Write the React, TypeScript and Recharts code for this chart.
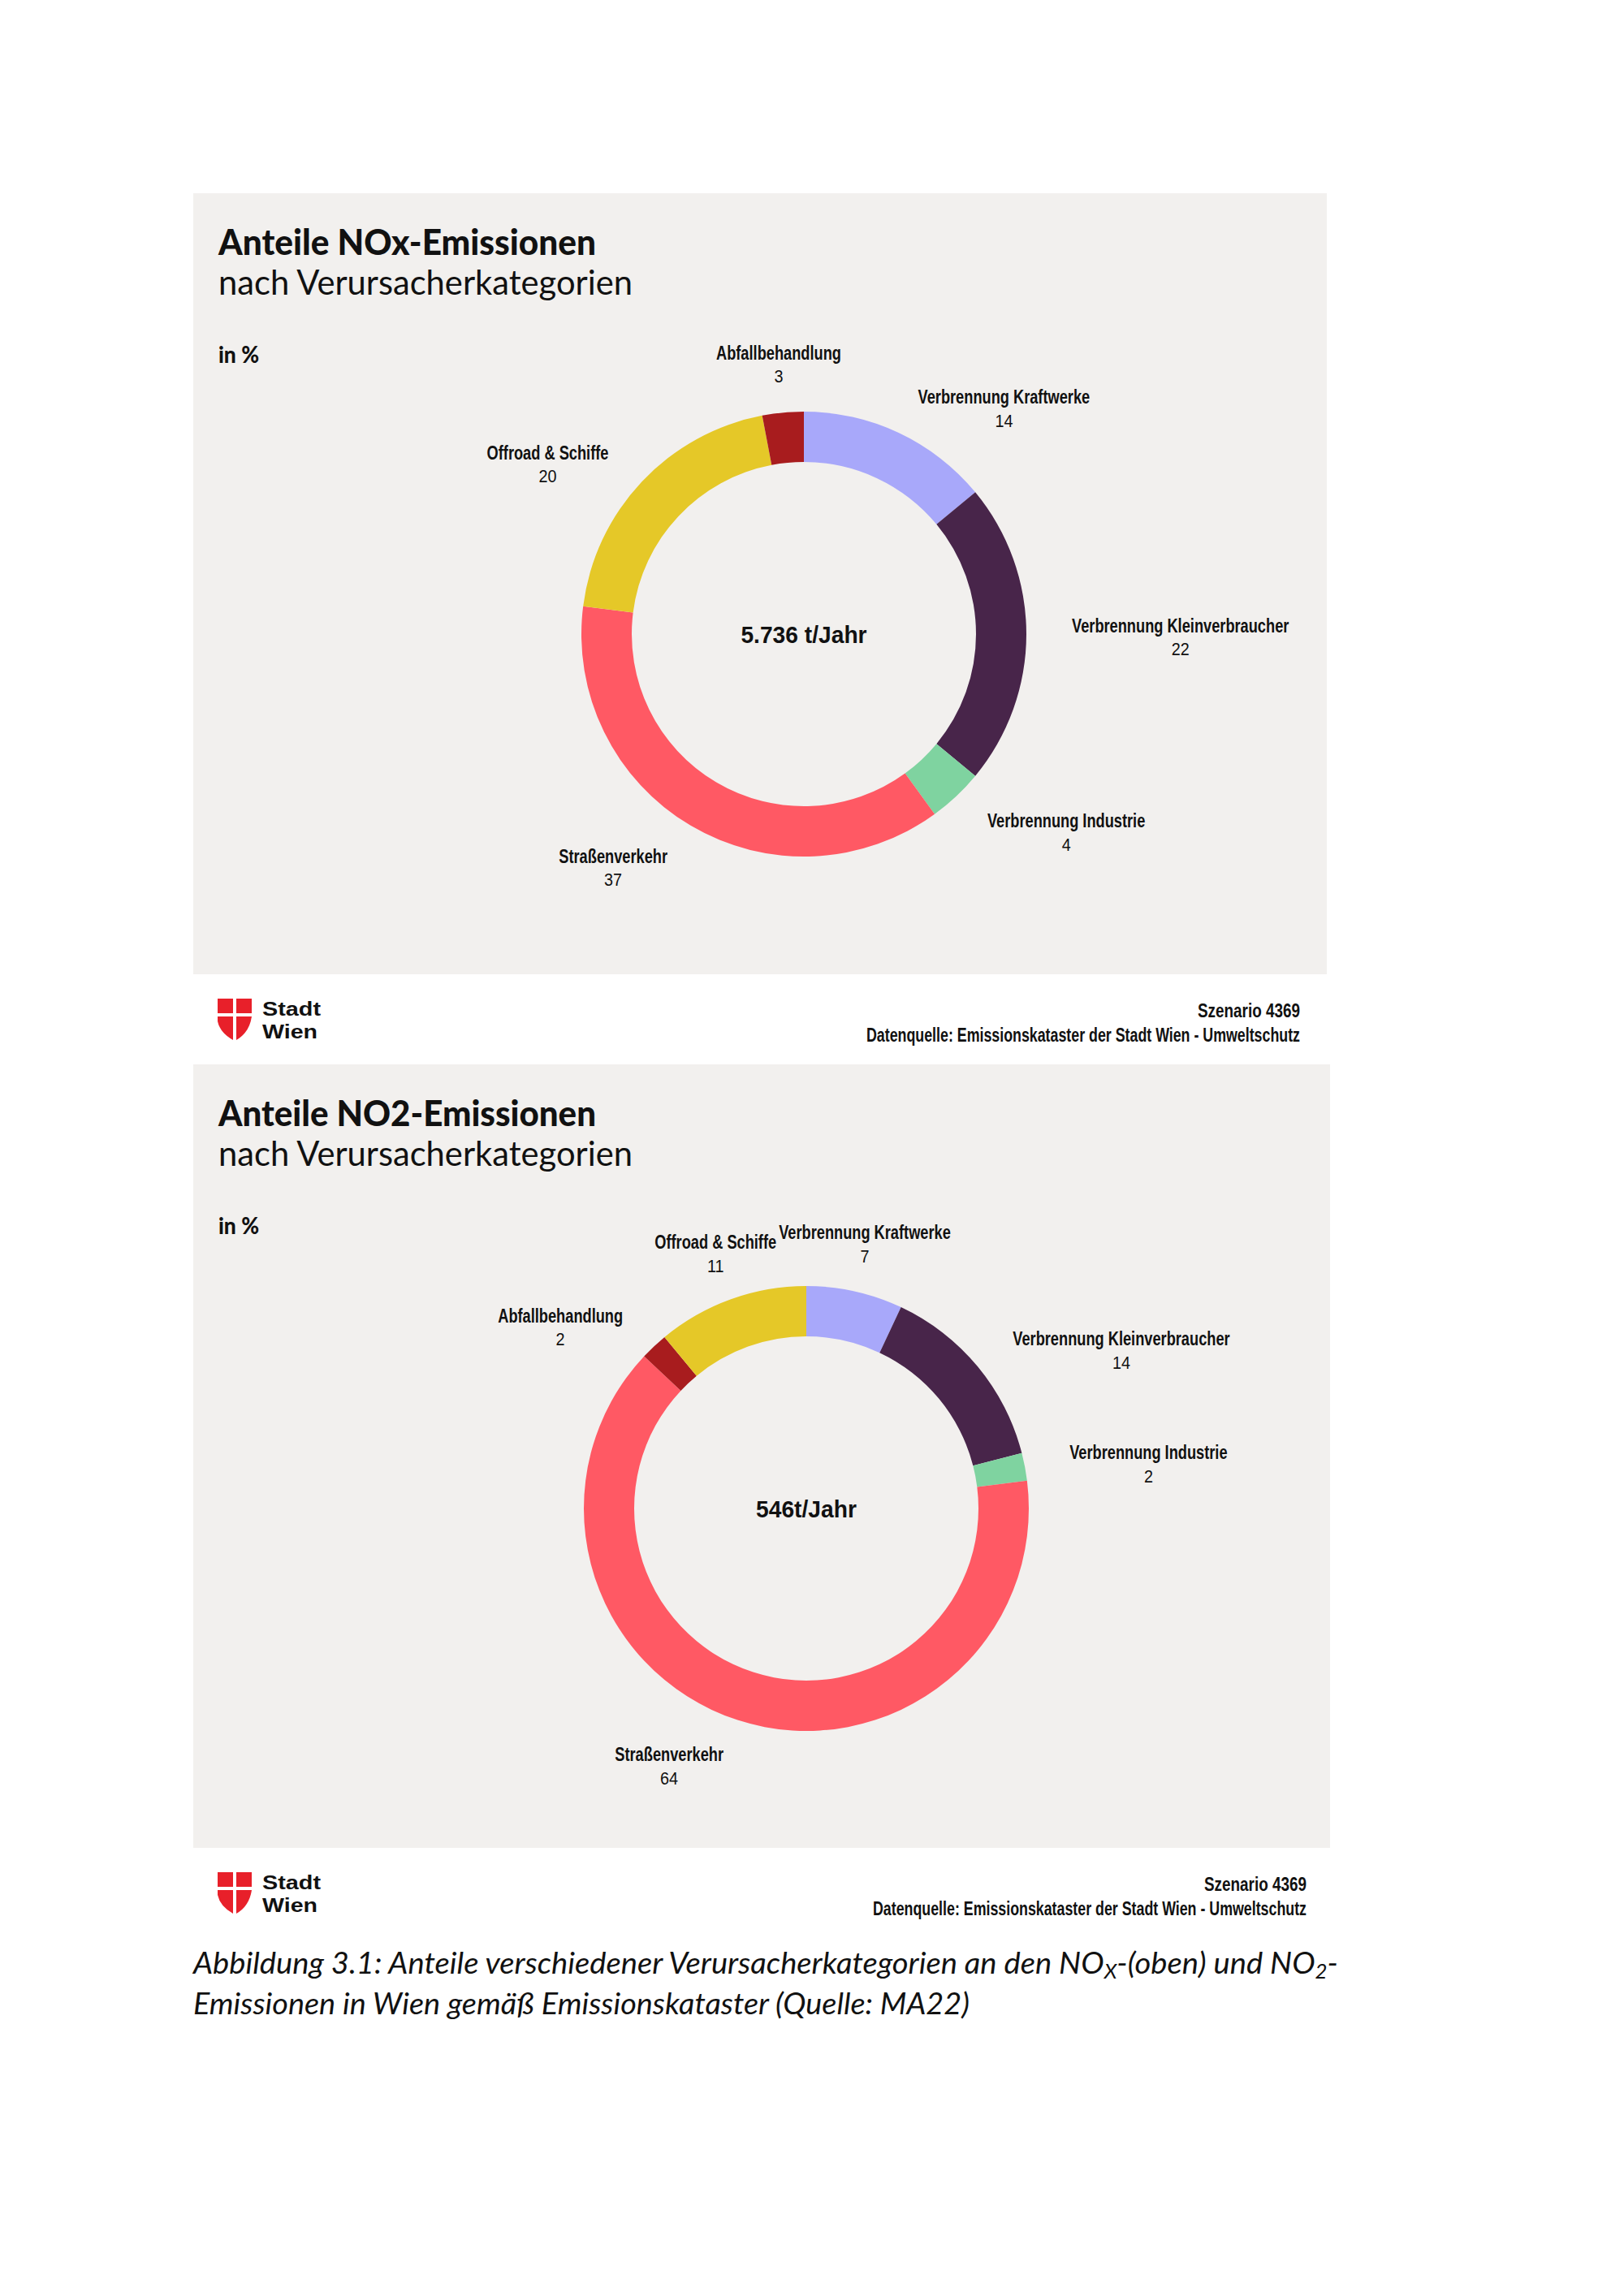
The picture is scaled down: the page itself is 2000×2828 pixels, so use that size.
import React from 'react';
import { PieChart, Pie, Cell } from 'recharts';

// ---------- DATA ----------
const noxCategories = [
  'Verbrennung Kraftwerke',
  'Verbrennung Kleinverbraucher',
  'Verbrennung Industrie',
  'Straßenverkehr',
  'Offroad & Schiffe',
  'Abfallbehandlung',
];
const noxShares = [14, 22, 4, 37, 20, 3];
const noxTotal = '5.736 t/Jahr';

const no2Categories = [
  'Verbrennung Kraftwerke',
  'Verbrennung Kleinverbraucher',
  'Verbrennung Industrie',
  'Straßenverkehr',
  'Abfallbehandlung',
  'Offroad & Schiffe',
];
const no2Shares = [7, 14, 2, 64, 2, 11];
const no2Total = '546t/Jahr';

// ---------- STYLE ----------
const categoryColors: Record<string, string> = {
  'Verbrennung Kraftwerke': '#A8A8FA',
  'Verbrennung Kleinverbraucher': '#48254A',
  'Verbrennung Industrie': '#7FD3A0',
  'Straßenverkehr': '#FF5964',
  'Offroad & Schiffe': '#E5C828',
  'Abfallbehandlung': '#A81C1E',
};
const GRAY = '#F2F0EE';
const INK = '#111111';
const NAME_FONT_FAMILY = '"Liberation Sans", Arial, sans-serif';
const NAME_SIZE = 24;
const NAME_SX = 0.76;
const NUM_SIZE = 22;
const NUM_SX = 0.9;
const TITLE_FAMILY = 'Lato, "Noto Sans", sans-serif';

const RAD = Math.PI / 180;

let canvasCtx: CanvasRenderingContext2D | null = null;
function measure(text: string, font: string): number {
  if (typeof document === 'undefined') return text.length * 12;
  if (!canvasCtx) canvasCtx = document.createElement('canvas').getContext('2d');
  if (!canvasCtx) return text.length * 12;
  canvasCtx.font = font;
  return canvasCtx.measureText(text).width;
}

const renderLabel = (props: any) => {
  const cx = Number(props.cx);
  const cy = Number(props.cy);
  const mid =
    props.midAngle !== undefined ? props.midAngle : (props.startAngle + props.endAngle) / 2;
  const r = Number(props.outerRadius) + 56;
  const px = cx + r * Math.cos(-mid * RAD);
  const up = Math.sin(mid * RAD);
  const right = Math.cos(mid * RAD);
  const anchor = up > 0.93 ? 'middle' : right > 0 ? 'start' : 'end';
  // labels near the top sit a bit higher, side labels in the upper half a bit lower
  const dy = anchor === 'middle' ? -10 : 19 * Math.max(up, 0) - 3;
  const py = cy + r * Math.sin(-mid * RAD) + dy;
  const name = String(props.name ?? props.payload?.name ?? '');
  const value = props.value ?? props.payload?.value;
  const w = measure(name, `bold ${NAME_SIZE}px "Liberation Sans", Arial, sans-serif`) * NAME_SX;
  const numX = anchor === 'middle' ? px : anchor === 'start' ? px + w / 2 : px - w / 2;
  return (
    <g key={`lbl-${name}`}>
      <text
        transform={`translate(${px},${py + 0.5}) scale(${NAME_SX},1)`}
        textAnchor={anchor}
        fontFamily={NAME_FONT_FAMILY}
        fontWeight={700}
        fontSize={NAME_SIZE}
        fill={INK}
      >
        {name}
      </text>
      <text
        transform={`translate(${numX},${py + 29}) scale(${NUM_SX},1)`}
        textAnchor="middle"
        fontFamily={NAME_FONT_FAMILY}
        fontWeight={400}
        fontSize={NUM_SIZE}
        fill={INK}
      >
        {value}
      </text>
    </g>
  );
};

type DonutProps = {
  names: string[];
  values: number[];
  width: number;
  height: number;
  cx: number;
  cy: number;
};

function Donut({ names, values, width, height, cx, cy }: DonutProps) {
  const data = names.map((n, i) => ({ name: n, value: values[i] }));
  return (
    <PieChart width={width} height={height} margin={{ top: 0, right: 0, bottom: 0, left: 0 }}>
      <Pie
        data={data}
        dataKey="value"
        nameKey="name"
        cx={cx}
        cy={cy}
        innerRadius={212}
        outerRadius={274}
        startAngle={90}
        endAngle={-270}
        paddingAngle={0}
        stroke="none"
        label={renderLabel}
        labelLine={false}
        isAnimationActive={false}
      >
        {data.map((d) => (
          <Cell key={d.name} fill={categoryColors[d.name]} stroke="none" />
        ))}
      </Pie>
    </PieChart>
  );
}

type PanelGeom = { left: number; top: number; width: number; height: number; cx: number; cy: number };
const panel1: PanelGeom = { left: 238, top: 238, width: 1396, height: 962, cx: 752, cy: 543 };
const panel2: PanelGeom = { left: 238, top: 1311, width: 1400, height: 965, cx: 755, cy: 547 };

function PanelText({ g, title, total, footRight }: { g: PanelGeom; title: string; total: string; footRight: number }) {
  const x = g.left + 31;
  const bottom = g.top + g.height;
  const lx = 268;
  const ly = bottom + 30;
  return (
    <g>
      <text x={x} y={g.top + 76} fontFamily={TITLE_FAMILY} fontWeight={900} fontSize={44} fill={INK}
        textLength={465} lengthAdjust="spacingAndGlyphs">{title}</text>
      <text x={x} y={g.top + 125} fontFamily={TITLE_FAMILY} fontWeight={400} fontSize={43} fill={INK}
        textLength={510} lengthAdjust="spacingAndGlyphs">nach Verursacherkategorien</text>
      <text x={x} y={g.top + 209} fontFamily={TITLE_FAMILY} fontWeight={900} fontSize={28} fill={INK}
        textLength={50} lengthAdjust="spacingAndGlyphs">in %</text>
      <text x={g.left + g.cx} y={g.top + g.cy + 11} textAnchor="middle" fontFamily={NAME_FONT_FAMILY}
        fontWeight={700} fontSize={30} fill={INK}
        transform={`translate(${g.left + g.cx},0) scale(0.94,1) translate(${-(g.left + g.cx)},0)`}>{total}</text>
      {/* logo */}
      <g fill="#E8202A">
        <rect x={lx} y={ly} width={19} height={18} />
        <rect x={lx + 23} y={ly} width={19} height={18} />
        <path d={`M${lx} ${ly + 22} H${lx + 19} V${ly + 51} Q${lx + 3} ${ly + 42} ${lx} ${ly + 28} Z`} />
        <path d={`M${lx + 23} ${ly + 22} H${lx + 42} Q${lx + 39} ${ly + 42} ${lx + 23} ${ly + 51} Z`} />
      </g>
      <text x={323} y={bottom + 51} fontFamily={NAME_FONT_FAMILY} fontWeight={700} fontSize={24} fill={INK}
        textLength={72} lengthAdjust="spacingAndGlyphs">Stadt</text>
      <text x={323} y={bottom + 79} fontFamily={NAME_FONT_FAMILY} fontWeight={700} fontSize={24} fill={INK}
        textLength={68} lengthAdjust="spacingAndGlyphs">Wien</text>
      <text x={footRight} y={bottom + 53} textAnchor="end" fontFamily={NAME_FONT_FAMILY} fontWeight={700}
        fontSize={23} fill={INK} textLength={126} lengthAdjust="spacingAndGlyphs">Szenario 4369</text>
      <text x={footRight} y={bottom + 83} textAnchor="end" fontFamily={NAME_FONT_FAMILY} fontWeight={700}
        fontSize={23} fill={INK} textLength={534} lengthAdjust="spacingAndGlyphs">Datenquelle: Emissionskataster der Stadt Wien - Umweltschutz</text>
    </g>
  );
}

export default function App() {
  return (
    <div style={{ position: 'absolute', left: 0, top: 0, width: 2000, height: 2828, background: '#ffffff', overflow: 'hidden' }}>
      <div style={{ position: 'absolute', left: panel1.left, top: panel1.top, width: panel1.width, height: panel1.height, background: GRAY }} />
      <div style={{ position: 'absolute', left: panel2.left, top: panel2.top, width: panel2.width, height: panel2.height, background: GRAY }} />
      <div style={{ position: 'absolute', left: panel1.left, top: panel1.top }}>
        <Donut names={noxCategories} values={noxShares} width={panel1.width} height={panel1.height} cx={panel1.cx} cy={panel1.cy} />
      </div>
      <div style={{ position: 'absolute', left: panel2.left, top: panel2.top }}>
        <Donut names={no2Categories} values={no2Shares} width={panel2.width} height={panel2.height} cx={panel2.cx} cy={panel2.cy} />
      </div>
      <svg width={2000} height={2828} style={{ position: 'absolute', left: 0, top: 0, pointerEvents: 'none' }}>
        <PanelText g={panel1} title="Anteile NOx-Emissionen" total={noxTotal} footRight={1601} />
        <PanelText g={panel2} title="Anteile NO2-Emissionen" total={no2Total} footRight={1609} />
        <text x={238} y={2431} fontFamily={TITLE_FAMILY} fontStyle="italic" fontWeight={400} fontSize={37} fill={INK}
          textLength={1410} lengthAdjust="spacingAndGlyphs">
          Abbildung 3.1: Anteile verschiedener Verursacherkategorien an den NO<tspan fontSize={25} dy={6}>X</tspan><tspan dy={-6}>-(oben) und NO</tspan><tspan fontSize={25} dy={6}>2</tspan><tspan dy={-6}>-</tspan>
        </text>
        <text x={238} y={2481} fontFamily={TITLE_FAMILY} fontStyle="italic" fontWeight={400} fontSize={37} fill={INK}
          textLength={956} lengthAdjust="spacingAndGlyphs">
          Emissionen in Wien gemäß Emissionskataster (Quelle: MA22)
        </text>
      </svg>
    </div>
  );
}
